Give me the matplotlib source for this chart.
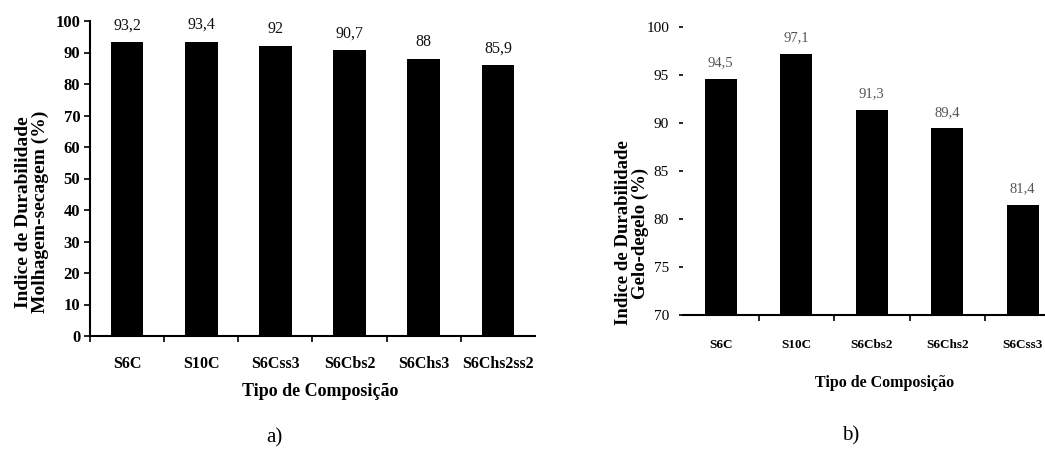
import matplotlib
matplotlib.use("Agg")
import matplotlib.pyplot as plt
import numpy as np

# ---- data ----
cats_a = ["S6C", "S10C", "S6Css3", "S6Cbs2", "S6Chs3", "S6Chs2ss2"]
vals_a = [93.2, 93.4, 92, 90.7, 88, 85.9]
labels_a = ["93,2", "93,4", "92", "90,7", "88", "85,9"]
yticks_a = [0, 10, 20, 30, 40, 50, 60, 70, 80, 90, 100]

cats_b = ["S6C", "S10C", "S6Cbs2", "S6Chs2", "S6Css3"]
vals_b = [94.5, 97.1, 91.3, 89.4, 81.4]
labels_b = ["94,5", "97,1", "91,3", "89,4", "81,4"]
yticks_b = [70, 75, 80, 85, 90, 95, 100]

ylabel_a = "Indice de Durabilidade\nMolhagem-secagem (%)"
ylabel_b = "Indice de Durabilidade\nGelo-degelo (%)"
xlabel = "Tipo de Composição"

plt.rcParams['font.family'] = ['Liberation Serif', 'DejaVu Serif']

W, H = 1045, 449
fig = plt.figure(figsize=(W / 100, H / 100), dpi=100)

def ax_rect(x0, x1, ytop, ybot):
    return [x0 / W, 1 - ybot / H, (x1 - x0) / W, (ybot - ytop) / H]

# ---- panel a ----
axa = fig.add_axes(ax_rect(90, 535, 21, 336))
xa = np.arange(len(cats_a))
axa.bar(xa, vals_a, width=0.44, color="black")
axa.set_xlim(-0.5, len(cats_a) - 0.5)
axa.set_ylim(0, 100)
axa.set_yticks(yticks_a)
axa.set_yticklabels([str(v) for v in yticks_a], fontsize=12, fontweight="bold")
axa.set_xticks(np.arange(len(cats_a)) - 0.5)
axa.set_xticklabels([])
axa.set_xticks(xa, minor=True)
axa.set_xticklabels(cats_a, minor=True, fontsize=11.5, fontweight="bold")
axa.tick_params(axis="x", which="minor", length=0, pad=14.5)
axa.tick_params(axis="x", which="major", length=4.5, width=1.2, direction="out")
axa.tick_params(axis="y", length=4, width=1.2, direction="out", pad=3)
for s in ["top", "right"]:
    axa.spines[s].set_visible(False)
for s in ["left", "bottom"]:
    axa.spines[s].set_linewidth(1.5)
for x, v, t in zip(xa, vals_a, labels_a):
    axa.annotate(t, (x, v), xytext=(0, 6.5), textcoords="offset points",
                 ha="center", va="bottom", fontsize=11.5, color="#111111")

# ---- panel b ----
axb = fig.add_axes(ax_rect(683, 683 + 5 * 75.5, 26.5, 315))
xb = np.arange(len(cats_b))
axb.bar(xb, vals_b, width=0.42, color="black")
axb.set_xlim(-0.5, len(cats_b) - 0.5)
axb.set_ylim(70, 100)
axb.set_yticks(yticks_b)
axb.set_yticklabels([str(v) for v in yticks_b], fontsize=11)
axb.set_xticks(np.arange(1, len(cats_b)) - 0.5)
axb.set_xticklabels([])
axb.set_xticks(xb, minor=True)
axb.set_xticklabels(cats_b, minor=True, fontsize=9.5, fontweight="bold")
axb.tick_params(axis="x", which="minor", length=0, pad=17)
axb.tick_params(axis="x", which="major", length=4, width=1.2, direction="out")
axb.tick_params(axis="y", length=3, width=1.2, direction="out", pad=7)
for s in ["top", "right", "left"]:
    axb.spines[s].set_visible(False)
axb.spines["bottom"].set_linewidth(1.5)
for x, v, t in zip(xb, vals_b, labels_b):
    axb.annotate(t, (x, v), xytext=(0, 7), textcoords="offset points",
                 ha="center", va="bottom", fontsize=10.5, color="#555555")

# ---- axis titles and panel letters ----
def ftext(x, y, s, **kw):
    fig.text(x / W, 1 - y / H, s, **kw)

ftext(32, 212, ylabel_a, rotation=90, ha="center", va="center",
      multialignment="center", fontsize=14, fontweight="bold", linespacing=1.0)
ftext(632, 233, ylabel_b, rotation=90, ha="center", va="center",
      multialignment="center", fontsize=13.5, fontweight="bold", linespacing=1.0)
ftext(320, 391, xlabel, ha="center", va="center", fontsize=13, fontweight="bold")
ftext(885, 383, xlabel, ha="center", va="center", fontsize=11.5, fontweight="bold")
ftext(274, 438, "a)", ha="center", va="center", fontsize=15)
ftext(851, 436, "b)", ha="center", va="center", fontsize=15)

fig.savefig("out.png", dpi=100)
